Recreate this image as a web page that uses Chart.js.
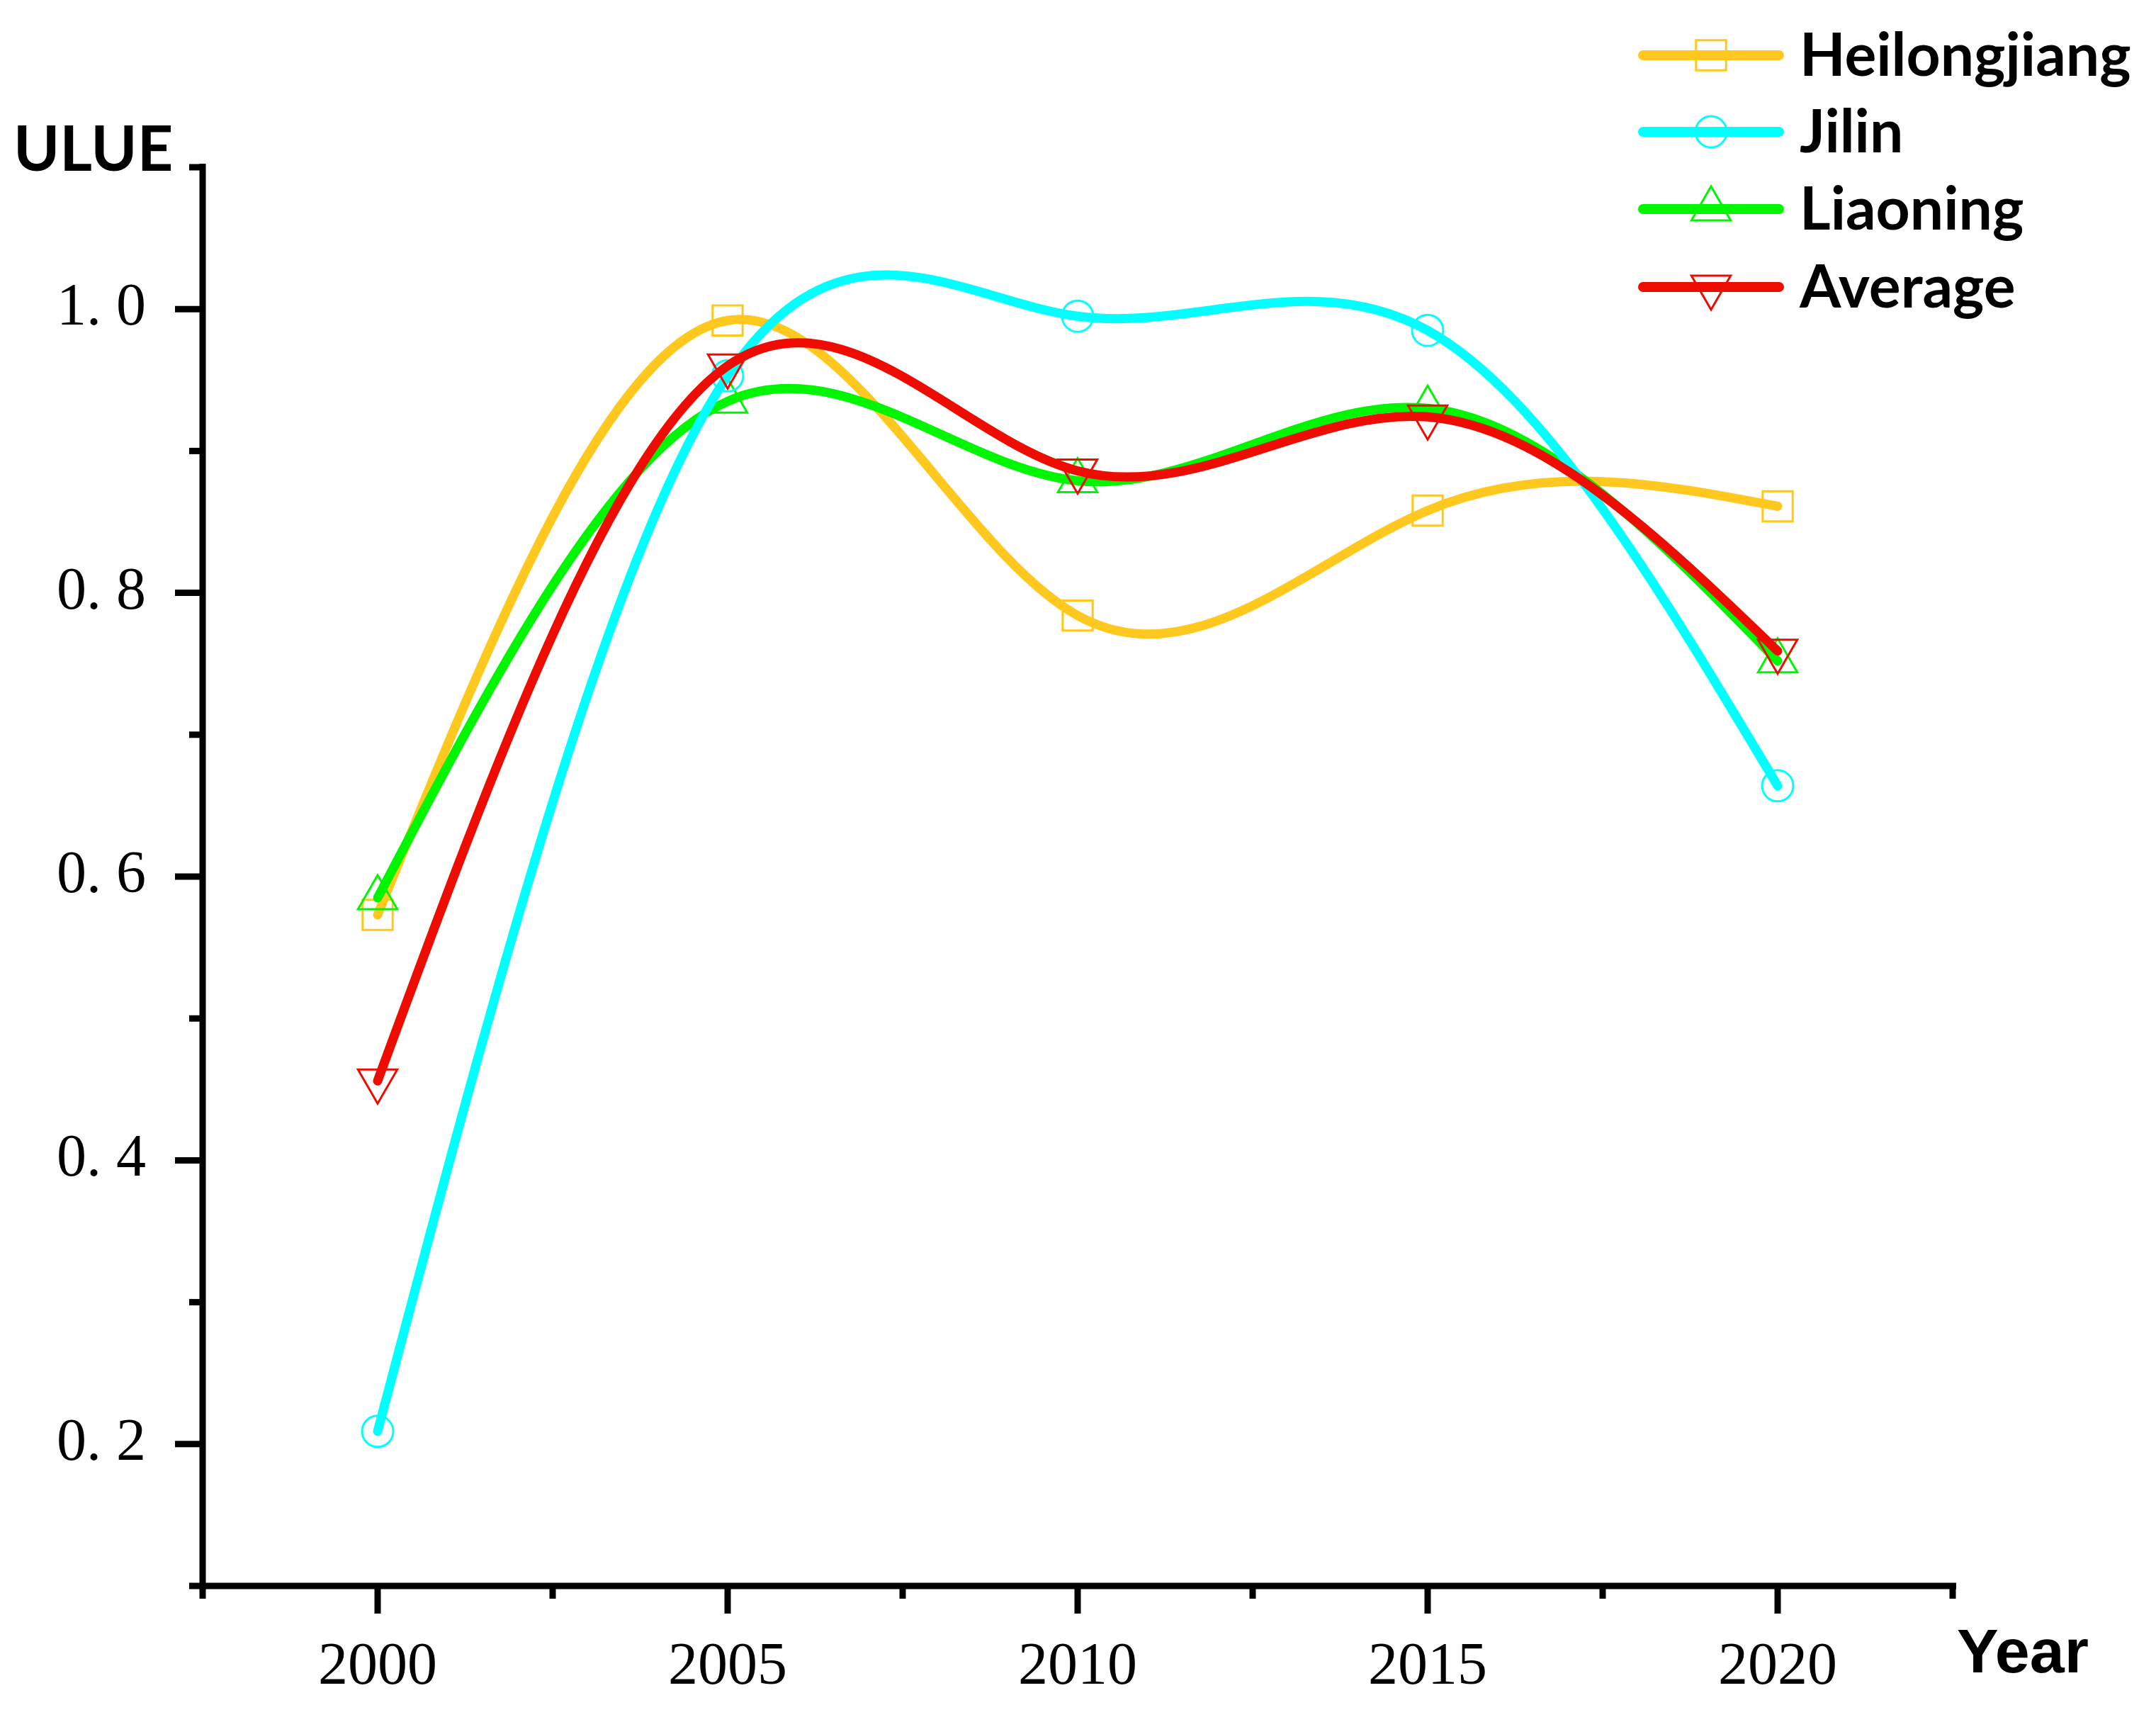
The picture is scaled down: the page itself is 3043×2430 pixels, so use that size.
<!DOCTYPE html>
<html>
<head>
<meta charset="utf-8">
<title>ULUE</title>
<script src="https://cdn.jsdelivr.net/npm/chart.js@4.4.1/dist/chart.umd.min.js"></script>
<style>
  html, body { margin: 0; padding: 0; background: #fff; }
  #wrap { width: 3043px; height: 2430px; }
</style>
</head>
<body>
<div id="wrap"><canvas id="ulueChart" width="3043" height="2430"></canvas></div>
<script>
// values
const years = [2000, 2005, 2010, 2015, 2020];
const heilongjiang = [0.573, 0.992, 0.784, 0.858, 0.861];
const jilin = [0.209, 0.953, 0.995, 0.985, 0.664];
const liaoning = [0.585, 0.935, 0.879, 0.930, 0.752];
const average = [0.456, 0.960, 0.886, 0.924, 0.759];

const xTicks = [2000, 2005, 2010, 2015, 2020];
const xMinor = [1997.5, 2002.5, 2007.5, 2012.5, 2017.5, 2022.5];
const yTicks = [0.2, 0.4, 0.6, 0.8, 1.0];
const yMinor = [0.1, 0.3, 0.5, 0.7, 0.9, 1.1];

// series styles (order: lower = drawn on top)
const series = [
  { label: 'Heilongjiang', values: heilongjiang, color: '#FFC81E', style: 'rect', radius: 30, rotation: 0, order: 3 },
  { label: 'Jilin', values: jilin, color: '#00FFFF', style: 'circle', radius: 22, rotation: 0, order: 1 },
  { label: 'Liaoning', values: liaoning, color: '#00F500', style: 'triangle', radius: 32, rotation: 0, order: 2 },
  { label: 'Average', values: average, color: '#EE0C00', style: 'triangle', radius: 32, rotation: 180, order: 0 }
];

const datasets = series.map(s => ({
  label: s.label,
  data: years.map((yr, i) => ({ x: yr, y: s.values[i] })),
  borderColor: s.color,
  borderWidth: 13,
  borderCapStyle: 'round',
  borderJoinStyle: 'round',
  tension: 0.4,
  pointStyle: s.style,
  pointRotation: s.rotation,
  pointRadius: s.radius,
  pointBorderWidth: 3,
  pointBorderColor: s.color,
  pointBackgroundColor: 'rgba(0,0,0,0)',
  order: s.order,
  clip: false
}));

// slopes of a natural cubic spline through the pixel points
function splineSlopes(xs, ys) {
  const n = xs.length;
  const h = [];
  for (let i = 0; i < n - 1; i++) h.push(xs[i + 1] - xs[i]);
  const m = new Array(n).fill(0);
  if (n > 2) {
    const a = [], b = [], c = [], d = [];
    for (let i = 1; i < n - 1; i++) {
      a.push(h[i - 1]);
      b.push(2 * (h[i - 1] + h[i]));
      c.push(h[i]);
      d.push(6 * ((ys[i + 1] - ys[i]) / h[i] - (ys[i] - ys[i - 1]) / h[i - 1]));
    }
    const k = b.length;
    for (let i = 1; i < k; i++) {
      const w = a[i] / b[i - 1];
      b[i] -= w * c[i - 1];
      d[i] -= w * d[i - 1];
    }
    const sol = new Array(k);
    sol[k - 1] = d[k - 1] / b[k - 1];
    for (let i = k - 2; i >= 0; i--) sol[i] = (d[i] - c[i] * sol[i + 1]) / b[i];
    for (let i = 0; i < k; i++) m[i + 1] = sol[i];
  }
  const slopes = [];
  for (let i = 0; i < n - 1; i++) {
    slopes.push((ys[i + 1] - ys[i]) / h[i] - h[i] * (2 * m[i] + m[i + 1]) / 6);
  }
  slopes.push((ys[n - 1] - ys[n - 2]) / h[n - 2] + h[n - 2] * (m[n - 2] + 2 * m[n - 1]) / 6);
  return slopes;
}

// replace chart.js bezier control points with spline ones
const splinePlugin = {
  id: 'spline',
  beforeDatasetDraw(chart, args) {
    const meta = args.meta;
    const pts = meta.data;
    if (!pts || pts.length < 3) return;
    meta.dataset.updateControlPoints(chart.chartArea, meta.iAxis);
    const xs = pts.map(p => p.x);
    const ys = pts.map(p => p.y);
    const slopes = splineSlopes(xs, ys);
    pts.forEach((p, i) => {
      if (i > 0) {
        const hp = (xs[i] - xs[i - 1]) / 3;
        p.cp1x = xs[i] - hp;
        p.cp1y = ys[i] - hp * slopes[i];
      }
      if (i < pts.length - 1) {
        const hn = (xs[i + 1] - xs[i]) / 3;
        p.cp2x = xs[i] + hn;
        p.cp2y = ys[i] + hn * slopes[i];
      }
    });
    meta.dataset._path = undefined;
  }
};

// axis lines, major and minor ticks, titles, legend
const decorPlugin = {
  id: 'decor',
  afterDraw(chart) {
    const { ctx } = chart;
    const x = chart.scales.x;
    const y = chart.scales.y;
    const left = x.left, right = x.right, top = y.top, bottom = y.bottom;

    const seg = (x1, y1, x2, y2) => {
      ctx.beginPath();
      ctx.moveTo(x1, y1);
      ctx.lineTo(x2, y2);
      ctx.stroke();
    };

    ctx.save();
    ctx.strokeStyle = '#000';
    ctx.lineWidth = 9;
    ctx.lineCap = 'butt';
    seg(left, top - 5, left, bottom + 5);
    seg(left - 4, bottom, right + 5, bottom);

    xTicks.forEach(v => { const px = x.getPixelForValue(v); seg(px, bottom, px, bottom + 39); });
    xMinor.forEach(v => { const px = x.getPixelForValue(v); seg(px, bottom, px, bottom + 18); });
    yTicks.forEach(v => { const py = y.getPixelForValue(v); seg(left - 39, py, left, py); });
    yMinor.forEach(v => { const py = y.getPixelForValue(v); seg(left - 19, py, left, py); });

    // axis titles
    ctx.fillStyle = '#000';
    ctx.textAlign = 'left';
    ctx.textBaseline = 'alphabetic';
    ctx.font = 'bold 88px Lato';
    ctx.fillText('ULUE', 19, 241);
    ctx.font = 'bold 88px "Liberation Sans"';
    ctx.fillText('Year', 2762, 2360);

    // legend
    const rowsY = [78, 186, 295, 405];
    series.forEach((s, i) => {
      const cy = rowsY[i];
      ctx.strokeStyle = s.color;
      ctx.lineWidth = 14;
      ctx.lineCap = 'round';
      seg(2319, cy, 2511, cy);
      ctx.lineWidth = 3;
      ctx.fillStyle = 'rgba(0,0,0,0)';
      Chart.helpers.drawPoint(ctx, {
        pointStyle: s.style, radius: s.radius, rotation: s.rotation, borderWidth: 3
      }, 2415, cy);
      ctx.fillStyle = '#000';
      ctx.font = 'bold 84px Lato';
      ctx.fillText(s.label, 2540, cy + 29);
    });
    ctx.restore();
  }
};

new Chart(document.getElementById('ulueChart'), {
  type: 'line',
  data: { datasets },
  options: {
    responsive: false,
    animation: false,
    events: [],
    layout: { padding: { top: 236, right: 287, left: 0, bottom: 0 } },
    plugins: { legend: { display: false }, tooltip: { enabled: false } },
    scales: {
      x: {
        type: 'linear',
        min: 1997.5,
        max: 2022.5,
        grid: { display: false },
        border: { display: false },
        afterBuildTicks: scale => { scale.ticks = xTicks.map(v => ({ value: v })); },
        afterFit: scale => { scale.height = 192; },
        ticks: {
          color: '#000',
          padding: 58,
          maxRotation: 0,
          font: { family: '"Liberation Serif"', size: 84 },
          callback: v => String(v)
        }
      },
      y: {
        type: 'linear',
        min: 0.1,
        max: 1.1,
        grid: { display: false },
        border: { display: false },
        afterBuildTicks: scale => { scale.ticks = yTicks.map(v => ({ value: v })); },
        afterFit: scale => { scale.width = 286; },
        ticks: {
          color: '#000',
          padding: 72,
          font: { family: '"Liberation Serif"', size: 84 },
          callback: v => v.toFixed(1).replace('.', '. ')
        }
      }
    }
  },
  plugins: [splinePlugin, decorPlugin]
});
</script>
</body>
</html>
